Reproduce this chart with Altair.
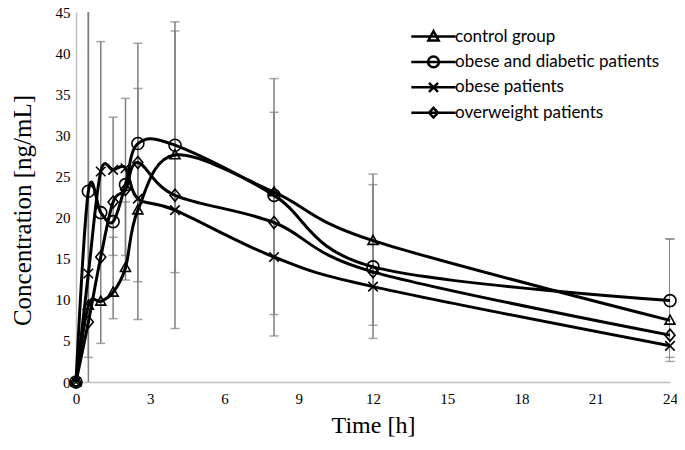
import altair as alt
import pandas as pd

times = [0, 0.5, 1, 1.5, 2, 2.5, 4, 8, 12, 24]
series_names = ["control group", "obese and diabetic patients", "obese patients", "overweight patients"]
control = [0, 9.3, 9.8, 10.9, 13.9, 20.9, 27.6, 23.1, 17.2, 7.5]
obese_diabetic = [0, 23.2, 20.6, 19.5, 24.0, 29.0, 28.8, 22.7, 14.0, 9.9]
obese = [0, 13.2, 25.6, 25.8, 26.0, 22.3, 20.9, 15.2, 11.6, 4.4]
overweight = [0, 7.3, 15.2, 21.9, 23.4, 26.7, 22.7, 19.4, 13.4, 5.7]

# error bars (time, low, high)
err_time = [0.5, 0.5, 1, 1.5, 1.5, 2, 2, 2.5, 2.5, 4, 4, 8, 8, 12, 12, 24, 24]
err_low = [-2, 3.0, 4.7, 7.7, 15.4, 12.4, 15.4, 7.6, 12.2, 6.5, 13.3, 5.6, 8.2, 5.3, 6.9, 2.5, 3.0]
err_high = [48, 48, 41.4, 32.2, 17.6, 34.5, 21.9, 41.2, 35.7, 43.8, 42.7, 36.9, 32.8, 25.3, 24.0, 17.4, 17.4]

rows = []
for name, vals in zip(series_names, [control, obese_diabetic, obese, overweight]):
    for t, v in zip(times, vals):
        rows.append({"time": t, "conc": v, "series": name})
df = pd.DataFrame(rows)

err = pd.DataFrame({"time": err_time, "low": err_low, "high": err_high})
caps = pd.DataFrame({
    "time": err_time + err_time,
    "val": err_low + err_high,
})
caps = caps[(caps.val >= 0) & (caps.val <= 45)]

marker_paths = [
    "M0,-1.05L1,0.75L-1,0.75Z",
    "M1.2,0A1.2,1.2,0,1,1,-1.2,0A1.2,1.2,0,1,1,1.2,0Z",
    "M-0.95,-0.95L0.95,0.95M-0.95,0.95L0.95,-0.95",
    "M0,-1.2L1,0L0,1.2L-1,0Z",
]
legend_paths = [
    "M-3.7,0L3.7,0M0,-0.9L0.85,0.65L-0.85,0.65Z",
    "M-3.7,0L3.7,0M0.9,0A0.9,0.9,0,1,1,-0.9,0A0.9,0.9,0,1,1,0.9,0Z",
    "M-3.7,0L3.7,0M-0.75,-0.75L0.75,0.75M-0.75,0.75L0.75,-0.75",
    "M-3.7,0L3.7,0M0,-0.8L0.75,0L0,0.8L-0.75,0Z",
]

serif = "Liberation Serif"
x = alt.X("time:Q", scale=alt.Scale(domain=[0, 24], nice=False),
          axis=alt.Axis(title="Time [h]", values=[0, 3, 6, 9, 12, 15, 18, 21, 24], grid=False,
                        ticks=False, domainColor="#bfbfbf", domainWidth=1.5, labelFlush=False,
                        labelFont=serif, labelFontSize=15, labelColor="black", labelPadding=9,
                        titleFont=serif, titleFontSize=24, titleFontWeight="normal",
                        titleColor="black", titleX=297, titleY=43, titleBaseline="middle"))
y_axis = alt.Axis(title="Concentration [ng/mL]", values=list(range(0, 46, 5)), grid=False,
                  ticks=False, domainColor="#bfbfbf", domainWidth=1.5,
                  labelFont=serif, labelFontSize=15, labelColor="black", labelPadding=6,
                  titleFont=serif, titleFontSize=25, titleFontWeight="normal",
                  titleColor="black", titleX=-54, titleY=198, titleBaseline="middle")
yscale = alt.Scale(domain=[0, 45], nice=False)

bars = alt.Chart(err).mark_rule(color="#7f7f7f", strokeWidth=1.5, clip=True).encode(
    x="time:Q", y=alt.Y("low:Q", scale=yscale, axis=y_axis), y2="high:Q")
captick = alt.Chart(caps).mark_tick(color="#7f7f7f", thickness=1.5, size=9, orient="horizontal").encode(
    x="time:Q", y=alt.Y("val:Q", scale=yscale))

lines = alt.Chart(df).mark_line(color="black", strokeWidth=3, interpolate="cardinal").encode(
    x=x, y=alt.Y("conc:Q", scale=yscale), detail="series:N")

points = alt.Chart(df).mark_point(filled=False, color="black", strokeWidth=1.6, size=100, opacity=1).encode(
    x="time:Q", y=alt.Y("conc:Q", scale=yscale),
    shape=alt.Shape("series:N", scale=alt.Scale(domain=series_names, range=marker_paths), legend=None))

legend_layer = alt.Chart(df).mark_point(filled=False, color="black", strokeWidth=2.2, size=144, opacity=0).encode(
    x="time:Q", y=alt.Y("conc:Q", scale=yscale),
    shape=alt.Shape("series:N", scale=alt.Scale(domain=series_names, range=legend_paths),
                    legend=alt.Legend(title=None, orient="none", legendX=349, legendY=16,
                                      symbolSize=144, symbolStrokeColor="black", symbolStrokeWidth=2.5,
                                      symbolFillColor="transparent", symbolOpacity=1,
                                      labelFont="Lato", labelFontSize=17, labelColor="black",
                                      labelOffset=13, rowPadding=5.4, labelLimit=0)))

chart = alt.layer(bars, captick, lines, points, legend_layer).resolve_scale(shape="independent").properties(
    width=594, height=370,
    autosize=alt.AutoSizeParams(type="none"),
    padding={"left": 68, "top": 4, "right": 7, "bottom": 60},
).configure_view(stroke=None)

chart.save("out.html", embed_options={"renderer": "svg", "actions": False})
